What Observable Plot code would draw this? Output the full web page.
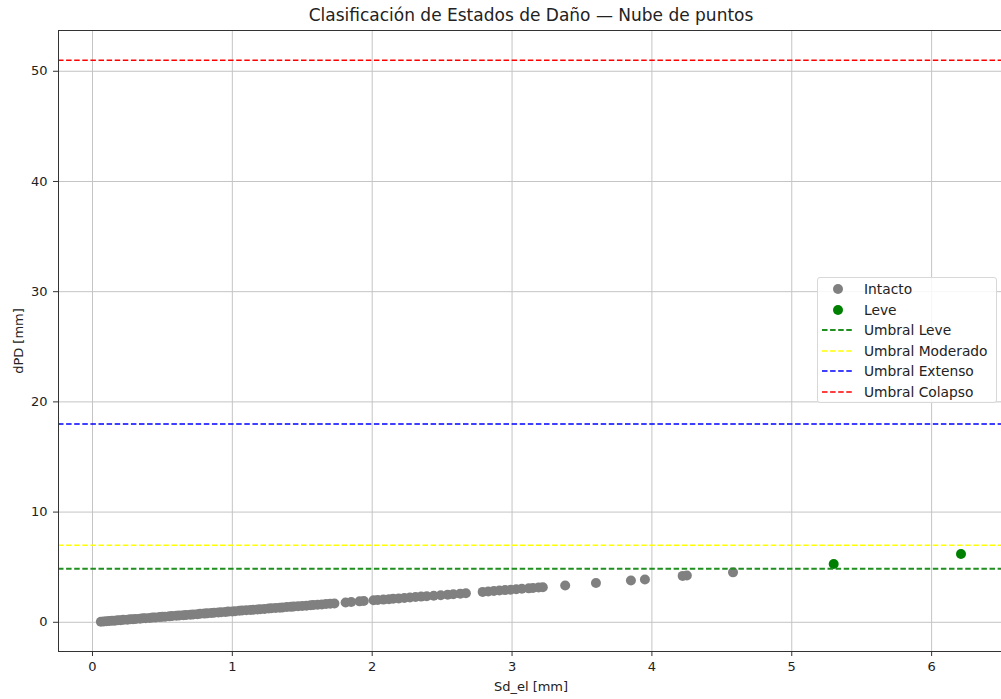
<!DOCTYPE html>
<html>
<head>
<meta charset="utf-8">
<script src="https://cdn.jsdelivr.net/npm/d3@7"></script>
<script src="https://cdn.jsdelivr.net/npm/@observablehq/plot@0.6"></script>
<style>
  body { margin: 0; background: #fff; font-family: "DejaVu Sans", sans-serif; }
  #wrap { position: relative; width: 1001px; height: 699px; overflow: hidden; }
  #legend {
    position: absolute; left: 817px; top: 277px; width: 180px; height: 126px;
    box-sizing: border-box; border: 1px solid #d8d8d8; border-radius: 3px;
    background: rgba(255,255,255,0.85); padding-top: 1px;
    font-family: "DejaVu Sans", sans-serif; font-size: 13.8px; color: #222;
  }
  .row { height: 20.5px; display: flex; align-items: center; }
  .row svg { width: 46px; height: 20px; flex: none; }
  .row span { line-height: 20px; }
</style>
</head>
<body>
<div id="wrap"><div id="legend"></div></div>
<script>
// ---- data ----
const title = "Clasificación de Estados de Daño — Nube de puntos";
const xLabel = "Sd_el [mm]";
const yLabel = "dPD [mm]";
const xTicks = [0, 1, 2, 3, 4, 5, 6];
const yTicks = [0, 10, 20, 30, 40, 50];

const intactoSd = [
  0.06,0.08,0.10,0.12,0.14,0.16,0.18,0.20,0.22,0.25,0.27,0.29,0.31,0.34,0.36,0.38,0.41,0.43,0.45,0.48,
  0.50,0.52,0.55,0.57,0.60,0.62,0.65,0.67,0.70,0.72,0.75,0.77,0.80,0.82,0.85,0.87,0.90,0.92,0.95,0.97,
  1.00,1.02,1.05,1.07,1.10,1.13,1.15,1.18,1.20,1.23,1.26,1.28,1.31,1.34,1.36,1.39,1.42,1.44,1.47,1.50,
  1.53,1.56,1.58,1.61,1.64,1.67,1.70,1.73,
  1.81,1.85,1.91,1.94,
  2.01,2.04,2.08,2.12,2.15,2.19,2.23,2.27,2.31,2.35,2.39,2.44,2.49,2.54,2.58,2.63,2.67,
  2.79,2.83,2.87,2.91,2.95,2.99,3.03,3.07,3.12,3.15,3.19,3.22,
  3.38,3.60,3.85,3.95,4.22,4.25,4.58
];
const intactoDpd = [
  0.05,0.08,0.10,0.11,0.14,0.15,0.18,0.19,0.22,0.24,0.27,0.28,0.31,0.33,0.36,0.37,0.40,0.43,0.44,0.47,
  0.50,0.51,0.54,0.57,0.59,0.61,0.64,0.67,0.69,0.71,0.74,0.77,0.79,0.81,0.84,0.87,0.89,0.91,0.94,0.97,
  0.99,1.01,1.04,1.07,1.09,1.11,1.14,1.17,1.19,1.21,1.25,1.27,1.29,1.32,1.35,1.38,1.40,1.43,1.46,1.48,
  1.51,1.55,1.57,1.60,1.62,1.66,1.69,1.71,
  1.80,1.84,1.90,1.93,
  2.00,2.03,2.06,2.10,2.14,2.17,2.21,2.25,2.29,2.33,2.37,2.41,2.46,2.51,2.55,2.60,2.64,
  2.76,2.80,2.84,2.88,2.92,2.96,3.00,3.04,3.08,3.12,3.15,3.18,
  3.34,3.57,3.79,3.88,4.21,4.24,4.53
];
const leveSd = [5.30, 6.21];
const leveDpd = [5.29, 6.20];

const umbralNames = ["Umbral Leve", "Umbral Moderado", "Umbral Extenso", "Umbral Colapso"];
const umbralValues = [4.85, 7.0, 18.0, 51.0];

// ---- styles ----
const umbralColors = {"Umbral Leve": "#1f8f1f", "Umbral Moderado": "#ffff00", "Umbral Extenso": "#0000ff", "Umbral Colapso": "#ff0000"};
const umbralWidths = {"Umbral Leve": 2, "Umbral Moderado": 1.5, "Umbral Extenso": 1.5, "Umbral Colapso": 1.5};
const stateColors = {"Intacto": "#808080", "Leve": "#008000"};
const font = "DejaVu Sans, sans-serif";

const intacto = intactoSd.map((v, i) => ({sd: v, dpd: intactoDpd[i]}));
const leve = leveSd.map((v, i) => ({sd: v, dpd: leveDpd[i]}));
const umbrales = umbralNames.map((n, i) => ({name: n, value: umbralValues[i]}));

const chart = Plot.plot({
  width: 1001,
  height: 699,
  marginLeft: 58,
  marginRight: -2,
  marginTop: 30,
  marginBottom: 48,
  style: {fontFamily: font, fontSize: "13px", color: "#222", background: "transparent", overflow: "visible"},
  x: {domain: [-0.243, 6.514], label: null},
  y: {domain: [-2.65, 53.7], label: null},
  marks: [
    Plot.gridX(xTicks, {stroke: "#c4c4c4", strokeOpacity: 1, strokeWidth: 1}),
    Plot.gridY(yTicks, {stroke: "#c4c4c4", strokeOpacity: 1, strokeWidth: 1}),
    Plot.dot(intacto, {x: "sd", y: "dpd", r: 5, fill: stateColors["Intacto"], stroke: "none"}),
    Plot.dot(leve, {x: "sd", y: "dpd", r: 5, fill: stateColors["Leve"], stroke: "none"}),
    Plot.ruleY(umbrales, {y: "value", stroke: d => umbralColors[d.name], strokeWidth: d => umbralWidths[d.name], strokeDasharray: "5.5,2.6"}),
    Plot.frame({stroke: "#333", strokeWidth: 1}),
    Plot.axisX(xTicks, {tickSize: 5, tickPadding: 5, fontSize: 13, label: null, tickFormat: d3.format("d"), stroke: "#333", fill: "#222"}),
    Plot.axisY(yTicks, {tickSize: 5, tickPadding: 6, fontSize: 13, label: null, tickFormat: d3.format("d"), stroke: "#333", fill: "#222"}),
    Plot.text([title], {frameAnchor: "top", dy: -15, fontSize: 17, fill: "#222", lineAnchor: "middle", textAnchor: "middle"}),
    Plot.text([xLabel], {frameAnchor: "bottom", dy: 35, fontSize: 13, fill: "#222", lineAnchor: "middle", textAnchor: "middle"}),
    Plot.text([yLabel], {frameAnchor: "left", dx: -40, rotate: -90, fontSize: 13, fill: "#222", lineAnchor: "middle", textAnchor: "middle"})
  ]
});
const wrap = document.getElementById("wrap");
wrap.insertBefore(chart, wrap.firstChild);

// ---- legend ----
const legend = document.getElementById("legend");
const items = [
  ...Object.keys(stateColors).map(k => ({label: k, kind: "dot", color: stateColors[k], w: 0})),
  ...umbralNames.map(n => ({label: n, kind: "line", color: umbralColors[n], w: umbralWidths[n]}))
];
for (const it of items) {
  const row = document.createElement("div");
  row.className = "row";
  const sw = it.kind === "dot"
    ? `<svg viewBox="0 0 46 20"><circle cx="20" cy="10" r="5" fill="${it.color}"/></svg>`
    : `<svg viewBox="0 0 46 20"><line x1="4" x2="36" y1="10" y2="10" stroke="${it.color}" stroke-width="${it.w}" stroke-dasharray="5.5,2.6"/></svg>`;
  row.innerHTML = sw + `<span>${it.label}</span>`;
  legend.appendChild(row);
}
</script>
</body>
</html>
